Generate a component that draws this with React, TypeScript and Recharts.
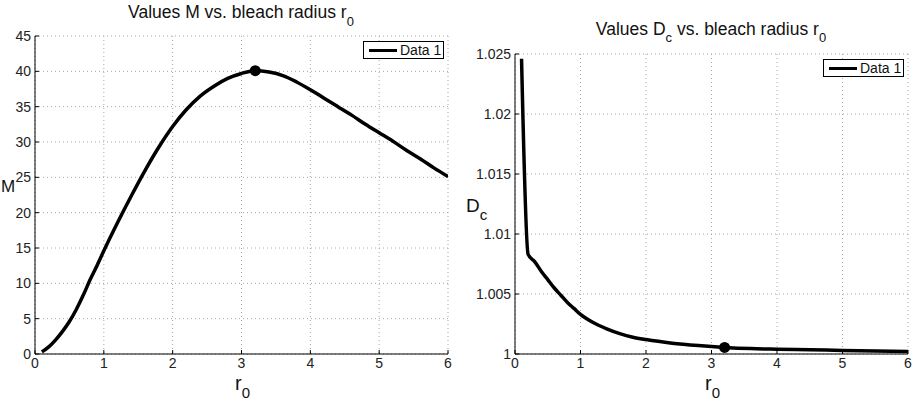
import { LineChart, Line, XAxis, YAxis, CartesianGrid, Legend } from 'recharts';

// r0 sample positions and the two curves
const radiusM = [0.1, 0.2, 0.3, 0.4, 0.5, 0.6, 0.7, 0.8, 0.9, 1.0, 1.2, 1.4, 1.6, 1.8, 2.0, 2.2, 2.4, 2.6, 2.8, 3.0, 3.2, 3.4, 3.6, 3.8, 4.0, 4.2, 4.4, 4.6, 4.8, 5.0, 5.2, 5.4, 5.6, 5.8, 6.0];
const valuesM = [0.3, 1.0, 2.0, 3.2, 4.6, 6.3, 8.3, 10.5, 12.5, 14.6, 18.6, 22.4, 26.0, 29.3, 32.2, 34.6, 36.5, 37.9, 39.0, 39.7, 40.1, 39.9, 39.4, 38.5, 37.4, 36.2, 35.0, 33.8, 32.5, 31.3, 30.1, 28.8, 27.6, 26.3, 25.1];

const radiusD = [0.1, 0.2, 0.3, 0.4, 0.5, 0.6, 0.7, 0.8, 0.9, 1.0, 1.2, 1.4, 1.6, 1.8, 2.0, 2.4, 2.8, 3.2, 3.6, 4.0, 4.5, 5.0, 5.5, 6.0];
const valuesD = [1.0246, 1.0083, 1.0077, 1.0069, 1.0062, 1.0055, 1.0049, 1.0043, 1.0038, 1.0033, 1.0026, 1.0021, 1.0017, 1.0014, 1.0012, 1.0009, 1.0007, 1.00055, 1.00045, 1.0004, 1.00035, 1.0003, 1.00025, 1.0002];

const xTicks = [0, 1, 2, 3, 4, 5, 6];
const mTicks = [0, 5, 10, 15, 20, 25, 30, 35, 40, 45];
const dTicks = [1, 1.005, 1.01, 1.015, 1.02, 1.025];
const markedRadius = 3.2;
const seriesName = 'Data 1';

const FONT = '"Liberation Sans", Arial, Helvetica, sans-serif';
const tickStyle = { fontSize: 14, fill: '#222', fontFamily: FONT };

const dataM = radiusM.map((r, i) => ({ r, v: valuesM[i] }));
const dataD = radiusD.map((r, i) => ({ r, v: valuesD[i] }));

function LegendBox() {
  return (
    <div
      style={{
        boxSizing: 'border-box',
        width: 81,
        height: 18,
        border: '1px solid #000',
        background: '#fff',
        display: 'flex',
        alignItems: 'center',
        fontFamily: FONT,
        fontSize: 14,
        color: '#111',
      }}
    >
      <span style={{ display: 'inline-block', width: 28, height: 3, background: '#000', marginLeft: 5, marginRight: 3 }} />
      <span>{seriesName}</span>
    </div>
  );
}

interface PanelProps {
  data: { r: number; v: number }[];
  yDomain: [number, number];
  yTicks: number[];
  yWidth: number;
  marginLeft: number;
  top: number;
  fmt: (v: number) => string;
}

function Panel({ data, yDomain, yTicks, yWidth, marginLeft, top, fmt }: PanelProps) {
  const markIdx = data.findIndex((d) => Math.abs(d.r - markedRadius) < 1e-9);
  return (
    <LineChart
      width={460}
      height={400}
      data={data}
      margin={{ top, right: 12, left: marginLeft, bottom: 16 }}
      style={{ fontFamily: FONT }}
    >
      <CartesianGrid stroke="#a8a8a8" strokeDasharray="1 3" />
      <XAxis
        dataKey="r"
        type="number"
        domain={[0, 6]}
        ticks={xTicks}
        height={30}
        tickSize={-4}
        tickMargin={8}
        tick={tickStyle}
        axisLine={{ stroke: '#000' }}
        tickLine={{ stroke: '#000' }}
        allowDataOverflow
      />
      <XAxis
        xAxisId="top"
        orientation="top"
        dataKey="r"
        type="number"
        domain={[0, 6]}
        ticks={xTicks}
        height={0}
        tickSize={-4}
        tick={false}
        axisLine={{ stroke: '#000' }}
        tickLine={{ stroke: '#000' }}
      />
      <YAxis
        type="number"
        domain={yDomain}
        ticks={yTicks}
        width={yWidth}
        tickSize={-4}
        tickMargin={8}
        tick={tickStyle}
        tickFormatter={fmt}
        axisLine={{ stroke: '#000' }}
        tickLine={{ stroke: '#000' }}
        allowDataOverflow
      />
      <YAxis
        yAxisId="right"
        orientation="right"
        type="number"
        domain={yDomain}
        ticks={yTicks}
        width={0}
        tickSize={-4}
        tick={false}
        axisLine={{ stroke: '#000' }}
        tickLine={{ stroke: '#000' }}
      />
      <Legend
        layout="horizontal"
        verticalAlign="middle"
        align="center"
        wrapperStyle={{ top: top + 5, left: 363, width: 81, height: 18 }}
        content={() => <LegendBox />}
      />
      <Line
        type="monotone"
        dataKey="v"
        name={seriesName}
        stroke="#000"
        strokeWidth={3.5}
        isAnimationActive={false}
        dot={(p: any) =>
          p.index === markIdx ? (
            <circle key={`m${p.index}`} cx={p.cx} cy={p.cy} r={5.5} fill="#000" />
          ) : (
            <g key={`n${p.index}`} />
          )
        }
        activeDot={false}
      />
    </LineChart>
  );
}

export default function App() {
  return (
    <div style={{ position: 'absolute', left: 0, top: 0, width: 917, height: 400, background: '#fff', overflow: 'hidden' }}>
      <div style={{ position: 'absolute', left: 0, top: 0 }}>
        <Panel data={dataM} yDomain={[0, 45]} yTicks={mTicks} yWidth={30} marginLeft={5} top={36} fmt={(v) => String(v)} />
      </div>
      <div style={{ position: 'absolute', left: 460, top: 0 }}>
        <Panel
          data={dataD}
          yDomain={[1, 1.025]}
          yTicks={dTicks}
          yWidth={45}
          marginLeft={10}
          top={54}
          fmt={(v) => String(+v.toFixed(3))}
        />
      </div>
      <svg width={917} height={400} style={{ position: 'absolute', left: 0, top: 0, pointerEvents: 'none' }} fontFamily={FONT} fill="#111">
        <text x={241} y={18} textAnchor="middle" fontSize={17.5}>
          Values M vs. bleach radius r<tspan dy={8} fontSize={13}>0</tspan>
        </text>
        <text x={711} y={35} textAnchor="middle" fontSize={17.5}>
          Values D<tspan dy={7} fontSize={13}>c</tspan>
          <tspan dy={-7}> vs. bleach radius r</tspan>
          <tspan dy={7} fontSize={13}>0</tspan>
        </text>
        <text x={1} y={192} fontSize={17}>M</text>
        <text x={466} y={212} fontSize={19}>
          D<tspan dy={8} fontSize={15}>c</tspan>
        </text>
        <text x={235} y={390} fontSize={20}>
          r<tspan dy={8} fontSize={15}>0</tspan>
        </text>
        <text x={705} y={390} fontSize={20}>
          r<tspan dy={8} fontSize={15}>0</tspan>
        </text>
      </svg>
    </div>
  );
}
